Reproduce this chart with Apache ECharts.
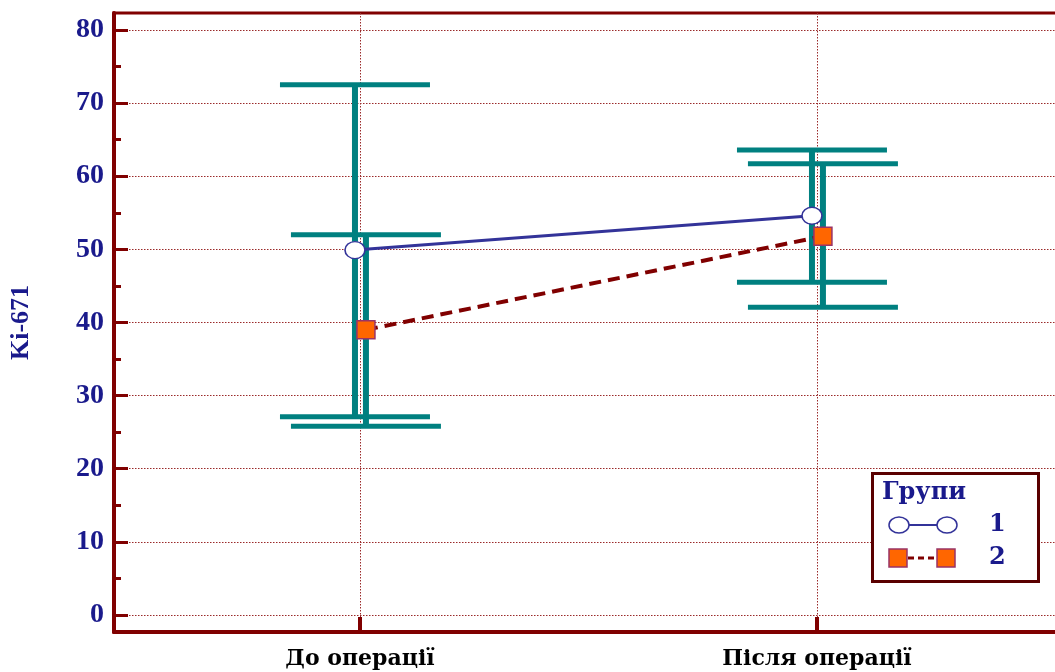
<!DOCTYPE html>
<html>
<head>
<meta charset="utf-8">
<script src="https://cdn.jsdelivr.net/npm/echarts@6/dist/echarts.min.js"></script>
<style>html,body{margin:0;padding:0;background:#fff;}#c{width:1055px;height:672px;}</style>
</head>
<body>
<div id="c"></div>
<script>
// ---- data ----
const categories = ['До операції', 'Після операції'];
const groupNames = ['1', '2'];
const group1Mean = [49.9, 54.6];
const group1Low = [27.1, 45.5];
const group1High = [72.5, 63.6];
const group2Mean = [39.0, 51.8];
const group2Low = [25.8, 42.1];
const group2High = [52.0, 61.7];
const yMajorTicks = [0, 10, 20, 30, 40, 50, 60, 70, 80];
const yMinorTicks = [5, 15, 25, 35, 45, 55, 65, 75];
const yAxisName = 'Ki-671';
const legendTitle = 'Групи';

// ---- styling / layout ----
const NAVY = '#1a1a8c';
const DARKRED = '#800000';
const GRIDRED = '#9a2a2a';
const TEAL = '#008080';
const SERIF = '"Liberation Serif", "Times New Roman", serif';
const WIDESERIF = '"DejaVu Serif", serif';
const offset1 = -0.011, offset2 = 0.013;
const catPos = categories.map((c, i) => i + 1);

const g1Points = catPos.map((p, i) => [p + offset1, group1Mean[i]]);
const g2Points = catPos.map((p, i) => [p + offset2, group2Mean[i]]);
const g1Err = catPos.map((p, i) => [p + offset1, group1Low[i], group1High[i]]);
const g2Err = catPos.map((p, i) => [p + offset2, group2Low[i], group2High[i]]);

function errRender(params, api) {
  const x = api.value(0);
  const lo = api.coord([x, api.value(1)]);
  const hi = api.coord([x, api.value(2)]);
  const half = 75;
  const st = { stroke: TEAL, lineWidth: 6 };
  const cap = { stroke: TEAL, lineWidth: 5 };
  return {
    type: 'group',
    children: [
      { type: 'line', shape: { x1: lo[0], y1: lo[1], x2: hi[0], y2: hi[1] }, style: st },
      { type: 'line', shape: { x1: lo[0] - half, y1: lo[1], x2: lo[0] + half, y2: lo[1] }, style: cap },
      { type: 'line', shape: { x1: hi[0] - half, y1: hi[1], x2: hi[0] + half, y2: hi[1] }, style: cap }
    ]
  };
}

const chart = echarts.init(document.getElementById('c'), null, { renderer: 'canvas' });
const option = {
  backgroundColor: '#fff',
  animation: false,
  grid: { left: 114, top: 13, width: 949, height: 619, outerBoundsMode: 'none', containLabel: false,
          show: true, borderColor: DARKRED, borderWidth: 3, backgroundColor: 'transparent' },
  xAxis: {
    type: 'value', min: 0.4617, max: 2.5383,
    axisLine: { show: true, onZero: false, lineStyle: { color: DARKRED, width: 4 } },
    axisTick: { show: true, inside: true, length: 15, customValues: catPos, lineStyle: { color: DARKRED, width: 4 } },
    axisLabel: {
      customValues: catPos, margin: 16,
      formatter: v => categories[Math.round(v) - 1] || '',
      color: '#000', fontFamily: WIDESERIF, fontWeight: 'bold', fontSize: 22
    },
    splitLine: { show: true, lineStyle: { color: GRIDRED, type: [1.5, 1.5], width: 1 } }
  },
  yAxis: [{
    type: 'value', min: -2.325, max: 82.325, position: 'left',
    name: yAxisName, nameLocation: 'middle', nameGap: 80, nameRotate: 90,
    nameTextStyle: { color: NAVY, fontFamily: SERIF, fontWeight: 'bold', fontSize: 26 },
    axisLine: { show: true, onZero: false, lineStyle: { color: DARKRED, width: 4 } },
    axisTick: { show: true, inside: true, length: 14, customValues: yMajorTicks, lineStyle: { color: DARKRED, width: 3 } },
    axisLabel: { customValues: yMajorTicks, margin: 10, color: NAVY, fontFamily: SERIF, fontWeight: 'bold', fontSize: 28 },
    splitLine: { show: true, lineStyle: { color: GRIDRED, type: [1.5, 1.5], width: 1 } }
  }, {
    type: 'value', min: -2.325, max: 82.325, position: 'left', offset: 0,
    axisLine: { show: false },
    axisTick: { show: true, inside: true, length: 7, customValues: yMinorTicks, lineStyle: { color: DARKRED, width: 3 } },
    axisLabel: { show: false },
    splitLine: { show: false }
  }],
  series: [
    { type: 'custom', name: 'err1', renderItem: errRender, data: g1Err, z: 2, silent: true },
    { type: 'custom', name: 'err2', renderItem: errRender, data: g2Err, z: 2, silent: true },
    {
      type: 'line', name: groupNames[0], data: g1Points, z: 5,
      symbol: 'circle', symbolSize: [20, 17], showSymbol: true,
      lineStyle: { color: '#333399', width: 3 },
      itemStyle: { color: '#fff', borderColor: '#333399', borderWidth: 1.5 }
    },
    {
      type: 'line', name: groupNames[1], data: g2Points, z: 5,
      symbol: 'rect', symbolSize: 18, showSymbol: true,
      lineStyle: { color: DARKRED, width: 4, type: [12, 7] },
      itemStyle: { color: '#ff6600', borderColor: '#993366', borderWidth: 1.5 }
    }
  ],
  graphic: [
    { type: 'rect', left: 871, top: 472, shape: { width: 166, height: 108 }, style: { fill: '#fff', stroke: '#5a0000', lineWidth: 3 }, z: 100 },
    { type: 'text', left: 882, top: 481, style: { text: legendTitle, fill: NAVY, font: 'bold 24px ' + WIDESERIF }, z: 101 },
    { type: 'line', shape: { x1: 899, y1: 525, x2: 947, y2: 525 }, style: { stroke: '#333399', lineWidth: 2 }, z: 101 },
    { type: 'ellipse', shape: { cx: 899, cy: 525, rx: 10, ry: 8 }, style: { fill: '#fff', stroke: '#333399', lineWidth: 1.5 }, z: 102 },
    { type: 'ellipse', shape: { cx: 947, cy: 525, rx: 10, ry: 8 }, style: { fill: '#fff', stroke: '#333399', lineWidth: 1.5 }, z: 102 },
    { type: 'text', left: 989, top: 513, style: { text: groupNames[0], fill: NAVY, font: 'bold 24px ' + WIDESERIF }, z: 101 },
    { type: 'line', shape: { x1: 898, y1: 558, x2: 946, y2: 558 }, style: { stroke: DARKRED, lineWidth: 3, lineDash: [6, 4] }, z: 101 },
    { type: 'rect', shape: { x: 889, y: 549, width: 18, height: 18 }, style: { fill: '#ff6600', stroke: '#993366', lineWidth: 1.5 }, z: 102 },
    { type: 'rect', shape: { x: 937, y: 549, width: 18, height: 18 }, style: { fill: '#ff6600', stroke: '#993366', lineWidth: 1.5 }, z: 102 },
    { type: 'text', left: 989, top: 546, style: { text: groupNames[1], fill: NAVY, font: 'bold 24px ' + WIDESERIF }, z: 101 }
  ]
};
chart.setOption(option);
</script>
</body>
</html>
